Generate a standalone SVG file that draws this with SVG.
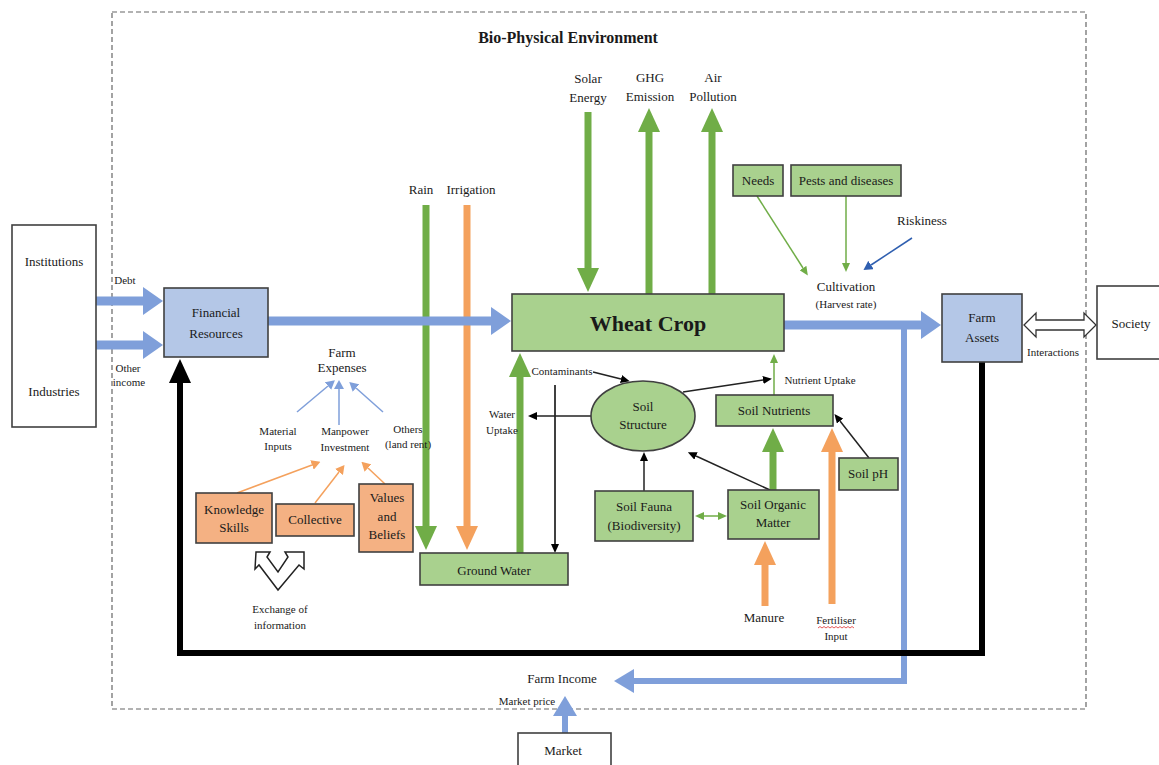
<svg xmlns="http://www.w3.org/2000/svg" width="1159" height="765" viewBox="0 0 1159 765">
<style>
text{font-family:"Liberation Serif","Times New Roman",serif;fill:#1a1a1a;text-anchor:middle}
.t{font-size:13px}
.s{font-size:11px}
.box{stroke:#404040;stroke-width:1.6}
.bl{fill:#b4c7e7}
.gr{fill:#a9d18e}
.or{fill:#f4b183}
.wh{fill:#fff}
.thin{fill:none;stroke-width:1.5}
</style>
<defs>
<marker id="gH" viewBox="0 -11 24 22" markerWidth="24" markerHeight="22" refX="0" refY="0" orient="auto" markerUnits="userSpaceOnUse"><path d="M0,-11L24,0L0,11z" fill="#70ad47"/></marker>
<marker id="oH" viewBox="0 -11 24 22" markerWidth="24" markerHeight="22" refX="0" refY="0" orient="auto" markerUnits="userSpaceOnUse"><path d="M0,-11L24,0L0,11z" fill="#f4a15d"/></marker>
<marker id="bH" viewBox="0 -14 20 28" markerWidth="20" markerHeight="28" refX="0" refY="0" orient="auto" markerUnits="userSpaceOnUse"><path d="M0,-14L20,0L0,14z" fill="#7f9fda"/></marker>
<marker id="bH2" viewBox="0 -12 20 24" markerWidth="20" markerHeight="24" refX="0" refY="0" orient="auto" markerUnits="userSpaceOnUse"><path d="M0,-12L20,0L0,12z" fill="#7f9fda"/></marker>
<marker id="kH" viewBox="0 -11 24 22" markerWidth="24" markerHeight="22" refX="0" refY="0" orient="auto" markerUnits="userSpaceOnUse"><path d="M0,-11L24,0L0,11z" fill="#000"/></marker>
<marker id="sk" viewBox="0 -4 9 8" markerWidth="9" markerHeight="8" refX="0" refY="0" orient="auto" markerUnits="userSpaceOnUse"><path d="M0,-4L9,0L0,4z" fill="#000"/></marker>
<marker id="sg" viewBox="0 -4 9 8" markerWidth="9" markerHeight="8" refX="0" refY="0" orient="auto" markerUnits="userSpaceOnUse"><path d="M0,-4L9,0L0,4z" fill="#70ad47"/></marker>
<marker id="sgs" viewBox="-9 -4 9 8" markerWidth="9" markerHeight="8" refX="0" refY="0" orient="auto" markerUnits="userSpaceOnUse"><path d="M0,-4L-9,0L0,4z" fill="#70ad47"/></marker>
<marker id="sb" viewBox="0 -5 9 10" markerWidth="9" markerHeight="10" refX="0" refY="0" orient="auto" markerUnits="userSpaceOnUse"><path d="M0,-5L9,0L0,5z" fill="#7f9fda"/></marker>
<marker id="sd" viewBox="0 -5 9 10" markerWidth="9" markerHeight="10" refX="0" refY="0" orient="auto" markerUnits="userSpaceOnUse"><path d="M0,-5L9,0L0,5z" fill="#2f5fb0"/></marker>
<marker id="so" viewBox="0 -5 9 10" markerWidth="9" markerHeight="10" refX="0" refY="0" orient="auto" markerUnits="userSpaceOnUse"><path d="M0,-5L9,0L0,5z" fill="#f4a15d"/></marker>
</defs>
<rect width="1159" height="765" fill="#fff"/>

<g id="environment">
<rect x="112" y="12" width="974" height="697" fill="none" stroke="#666" stroke-width="1.2" stroke-dasharray="5,3"/>
<text x="568" y="43" style="font-size:16px;font-weight:bold">Bio-Physical Environment</text>
</g>

<g id="connectors">
<path d="M588,112V268" stroke="#70ad47" stroke-width="7" fill="none" marker-end="url(#gH)"/>
<path d="M649,294V132" stroke="#70ad47" stroke-width="7" fill="none" marker-end="url(#gH)"/>
<path d="M712,294V132" stroke="#70ad47" stroke-width="7" fill="none" marker-end="url(#gH)"/>
<path d="M426,205V526" stroke="#70ad47" stroke-width="7" fill="none" marker-end="url(#gH)"/>
<path d="M520,553V377" stroke="#70ad47" stroke-width="7" fill="none" marker-end="url(#gH)"/>
<path d="M773,490V452" stroke="#70ad47" stroke-width="7" fill="none" marker-end="url(#gH)"/>
<path d="M467,205V526" stroke="#f4a15d" stroke-width="7" fill="none" marker-end="url(#oH)"/>
<path d="M765,606V565" stroke="#f4a15d" stroke-width="7" fill="none" marker-end="url(#oH)"/>
<path d="M832,604V452" stroke="#f4a15d" stroke-width="7" fill="none" marker-end="url(#oH)"/>
<path d="M96,301H143" stroke="#7f9fda" stroke-width="9" fill="none" marker-end="url(#bH)"/>
<path d="M96,345H143" stroke="#7f9fda" stroke-width="9" fill="none" marker-end="url(#bH)"/>
<path d="M268,321H491" stroke="#7f9fda" stroke-width="9" fill="none" marker-end="url(#bH)"/>
<path d="M784,325H921" stroke="#7f9fda" stroke-width="9" fill="none" marker-end="url(#bH)"/>
<path d="M904,325V681H634" stroke="#7f9fda" stroke-width="6" fill="none" marker-end="url(#bH2)"/>
<path d="M565,733V716" stroke="#7f9fda" stroke-width="6" fill="none" marker-end="url(#bH2)"/>
<path d="M982,362V653H180V383" stroke="#000" stroke-width="6" fill="none" marker-end="url(#kH)"/>
<path d="M297,412L328,386" class="thin" stroke="#7f9fda" stroke-width="2.5" marker-end="url(#sb)"/>
<path d="M339,425V389" class="thin" stroke="#7f9fda" stroke-width="2.5" marker-end="url(#sb)"/>
<path d="M383,412L356,388" class="thin" stroke="#7f9fda" stroke-width="2.5" marker-end="url(#sb)"/>
<path d="M237,493L312,465" class="thin" stroke="#f4a15d" stroke-width="2.5" marker-end="url(#so)"/>
<path d="M315,503L339,472" class="thin" stroke="#f4a15d" stroke-width="2.5" marker-end="url(#so)"/>
<path d="M385,484L368,468" class="thin" stroke="#f4a15d" stroke-width="2.5" marker-end="url(#so)"/>
<path d="M757,196L803,268" class="thin" stroke="#70ad47" stroke-width="2" marker-end="url(#sg)"/>
<path d="M846,196V263" class="thin" stroke="#70ad47" stroke-width="2" marker-end="url(#sg)"/>
<path d="M912,238L871,265" class="thin" stroke="#2f5fb0" stroke-width="2" marker-end="url(#sd)"/>
<path d="M593,372L621,379" class="thin" stroke="#222" stroke-width="1.2" marker-end="url(#sk)"/>
<path d="M555,385V544" class="thin" stroke="#000" stroke-width="2" marker-end="url(#sk)"/>
<path d="M591,416H537" class="thin" stroke="#222" stroke-width="1.2" marker-end="url(#sk)"/>
<path d="M683,392L763,380" class="thin" stroke="#222" stroke-width="1.2" marker-end="url(#sk)"/>
<path d="M774,395V363" class="thin" stroke="#70ad47" stroke-width="2" marker-end="url(#sg)"/>
<path d="M869,458L840,421" class="thin" stroke="#222" stroke-width="1.2" marker-end="url(#sk)"/>
<path d="M644,491V461" class="thin" stroke="#222" stroke-width="1.2" marker-end="url(#sk)"/>
<path d="M770,490L696,456" class="thin" stroke="#222" stroke-width="1.2" marker-end="url(#sk)"/>
<path d="M704,516H718" class="thin" stroke="#70ad47" stroke-width="2.5" marker-start="url(#sgs)" marker-end="url(#sg)"/>
<polygon points="1024,325 1036,313 1036,320 1084,320 1084,313 1096,325 1084,337 1084,330 1036,330 1036,337" fill="#fff" stroke="#333" stroke-width="1.3"/>
<polygon points="256,552 270,552 267,557 278,572 288,557 285,552 304,552 304,569 299,565 278,590 259,565 255,569" fill="#fff" stroke="#222" stroke-width="1.5"/>
</g>

<g id="institutions"><rect class="box wh" x="12" y="225" width="84" height="202"/>
<text class="t" x="54" y="266">Institutions</text><text class="t" x="54" y="396">Industries</text></g>
<g id="flow-labels">
<text class="s" x="125" y="284">Debt</text>
<text class="s" x="128" y="372">Other</text>
<text class="s" x="129" y="386">income</text>
<text class="t" x="342" y="357">Farm</text>
<text class="t" x="342" y="372">Expenses</text>
<text class="s" x="278" y="435">Material</text><text class="s" x="278" y="450">Inputs</text>
<text class="s" x="345" y="435">Manpower</text><text class="s" x="345" y="451">Investment</text>
<text class="s" x="408" y="433">Others</text><text class="s" x="408" y="448">(land rent)</text>
<text class="s" x="280" y="613">Exchange of</text><text class="s" x="280" y="629">information</text>
<text class="t" x="421" y="194">Rain</text>
<text class="t" x="471" y="194">Irrigation</text>
<text class="t" x="588" y="83">Solar</text><text class="t" x="588" y="102">Energy</text>
<text class="t" x="650" y="82">GHG</text><text class="t" x="650" y="101">Emission</text>
<text class="t" x="713" y="82">Air</text><text class="t" x="713" y="101">Pollution</text>
<text class="t" x="922" y="225">Riskiness</text>
<text class="t" x="846" y="291">Cultivation</text>
<text class="s" x="846" y="308">(Harvest rate)</text>
<text class="s" x="1053" y="356">Interactions</text>
<text class="s" x="562" y="375">Contaminants</text>
<text class="s" x="502" y="418">Water</text><text class="s" x="502" y="434">Uptake</text>
<text class="s" x="820" y="384">Nutrient Uptake</text>
<text class="t" x="764" y="622">Manure</text>
<text class="s" x="836" y="624">Fertiliser</text><text class="s" x="836" y="640">Input</text>
<path d="M818,628l2,-1.5l2,1.5l2,-1.5l2,1.5l2,-1.5l2,1.5l2,-1.5l2,1.5l2,-1.5l2,1.5l2,-1.5l2,1.5l2,-1.5l2,1.5l2,-1.5l2,1.5l2,-1.5l2,1.5" fill="none" stroke="#e03030" stroke-width="0.8"/>
<text class="t" x="562" y="683">Farm Income</text>
<text class="s" x="527" y="705">Market price</text>
</g>

<g id="financial-resources"><rect class="box bl" x="164" y="288" width="104" height="69"/>
<text class="t" x="216" y="317">Financial</text><text class="t" x="216" y="338">Resources</text></g>
<g id="wheat-crop"><rect class="box gr" x="512" y="294" width="272" height="57"/>
<text x="648" y="331" style="font-size:22px;font-weight:bold">Wheat Crop</text></g>
<g id="needs"><rect class="box gr" x="733" y="165" width="50" height="31"/><text class="t" x="758" y="185">Needs</text></g>
<g id="pests"><rect class="box gr" x="791" y="165" width="110" height="31"/><text class="t" x="846" y="185">Pests and diseases</text></g>
<g id="farm-assets"><rect class="box bl" x="942" y="294" width="80" height="68"/>
<text class="t" x="982" y="322">Farm</text><text class="t" x="982" y="342">Assets</text></g>
<g id="society"><rect class="box wh" x="1097" y="286" width="75" height="73"/><text class="t" x="1131" y="328">Society</text></g>
<g id="knowledge"><rect class="box or" x="196" y="493" width="76" height="50"/>
<text class="t" x="234" y="514">Knowledge</text><text class="t" x="234" y="532">Skills</text></g>
<g id="collective"><rect class="box or" x="276" y="504" width="78" height="32"/><text class="t" x="315" y="524">Collective</text></g>
<g id="values"><rect class="box or" x="359" y="484" width="54" height="68"/>
<text class="t" x="387" y="502">Values</text><text class="t" x="387" y="521">and</text><text class="t" x="387" y="539">Beliefs</text></g>
<g id="ground-water"><rect class="box gr" x="420" y="553" width="148" height="32"/><text class="t" x="494" y="575">Ground Water</text></g>
<g id="soil-structure"><ellipse class="box gr" cx="643" cy="416" rx="52" ry="35"/>
<text class="t" x="643" y="411">Soil</text><text class="t" x="643" y="429">Structure</text></g>
<g id="soil-nutrients"><rect class="box gr" x="716" y="395" width="117" height="31"/><text class="t" x="774" y="415">Soil Nutrients</text></g>
<g id="soil-ph"><rect class="box gr" x="839" y="458" width="59" height="32"/><text class="t" x="868" y="478">Soil pH</text></g>
<g id="soil-fauna"><rect class="box gr" x="595" y="491" width="98" height="50"/>
<text class="t" x="644" y="511">Soil Fauna</text><text class="t" x="644" y="530">(Biodiversity)</text></g>
<g id="soil-organic-matter"><rect class="box gr" x="728" y="490" width="91" height="49"/>
<text class="t" x="773" y="509">Soil Organic</text><text class="t" x="773" y="527">Matter</text></g>
<g id="market"><rect class="box wh" x="518" y="733" width="93" height="40"/><text class="t" x="563" y="755">Market</text></g>
</svg>
